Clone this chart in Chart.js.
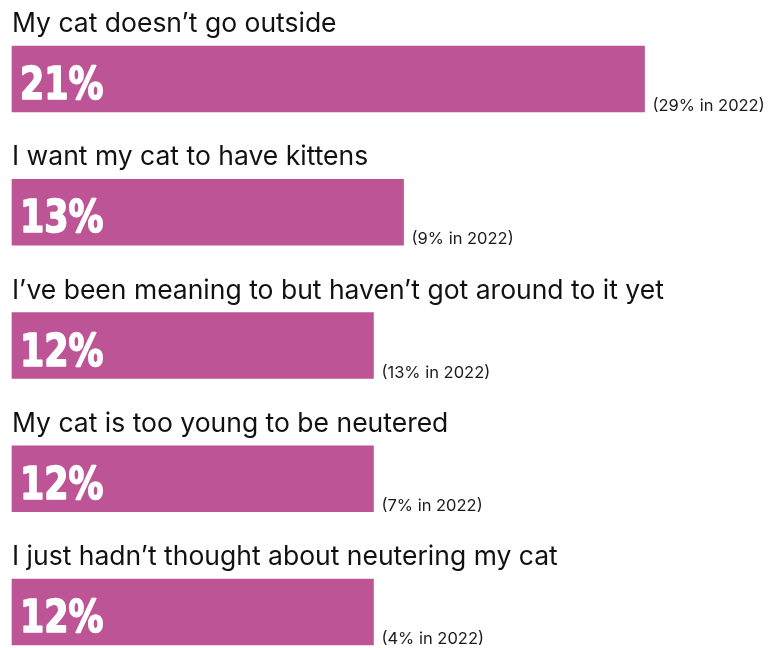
<!DOCTYPE html>
<html>
<head>
<meta charset="utf-8">
<script src="https://cdn.jsdelivr.net/npm/chart.js@4"></script>
<style>
  html, body { margin: 0; padding: 0; background: #ffffff; }
  #wrap { width: 782px; height: 648px; position: relative; }
</style>
</head>
<body>
<div id="wrap"><canvas id="chart" width="782" height="648"></canvas></div>
<script>
// Reasons for not neutering, share of owners (%)
const reasons = [
  "My cat doesn\u2019t go outside",
  "I want my cat to have kittens",
  "I\u2019ve been meaning to but haven\u2019t got around to it yet",
  "My cat is too young to be neutered",
  "I just hadn\u2019t thought about neutering my cat"
];
const share2023 = [21, 13, 12, 12, 12];
const share2022 = [29, 9, 13, 7, 4];

const BAR_COLOR = "#bc5495";

// Draws the reason above each bar, the big value inside it and the 2022 comparison after it
const barText = {
  id: "barText",
  afterDatasetsDraw(chart) {
    const ctx = chart.ctx;
    const meta = chart.getDatasetMeta(0);
    meta.data.forEach((bar, i) => {
      const top = bar.y - bar.height / 2;
      const bottom = bar.y + bar.height / 2;
      const left = bar.base;
      ctx.save();
      ctx.textAlign = "left";
      ctx.textBaseline = "alphabetic";

      ctx.fillStyle = "#111111";
      ctx.font = "400 26.5px Inter, 'Noto Sans', sans-serif";
      ctx.fillText(reasons[i], left, top - 14);

      // big condensed value, squeezed horizontally
      const big = share2023[i] + "%";
      ctx.save();
      ctx.translate(left + 8, bottom - 13);
      ctx.scale(0.86, 1);
      ctx.fillStyle = "#ffffff";
      ctx.strokeStyle = "#ffffff";
      ctx.lineWidth = 1.6;
      ctx.lineJoin = "round";
      ctx.font = "bold 45px 'DejaVu Sans Condensed', 'DejaVu Sans', sans-serif";
      ctx.fillText(big, 0, 0);
      ctx.strokeText(big, 0, 0);
      ctx.restore();

      ctx.fillStyle = "#1a1a1a";
      ctx.font = "400 16.5px Inter, 'Noto Sans', sans-serif";
      ctx.fillText("(" + share2022[i] + "% in 2022)", bar.x + 8, bottom - 1);
      ctx.restore();
    });
  }
};

new Chart(document.getElementById("chart"), {
  type: "bar",
  data: {
    labels: reasons,
    datasets: [{
      data: share2023,
      backgroundColor: BAR_COLOR,
      borderWidth: 0,
      barThickness: 66,
      clip: false
    }]
  },
  options: {
    indexAxis: "y",
    responsive: false,
    animation: false,
    devicePixelRatio: 1,
    layout: { padding: { top: 79, bottom: 36, left: 12, right: 20 } },
    scales: {
      x: { display: false, min: 0, max: 24.9 },
      y: { display: false, offset: false }
    },
    plugins: {
      legend: { display: false },
      tooltip: { enabled: false }
    }
  },
  plugins: [barText]
});
</script>
</body>
</html>
